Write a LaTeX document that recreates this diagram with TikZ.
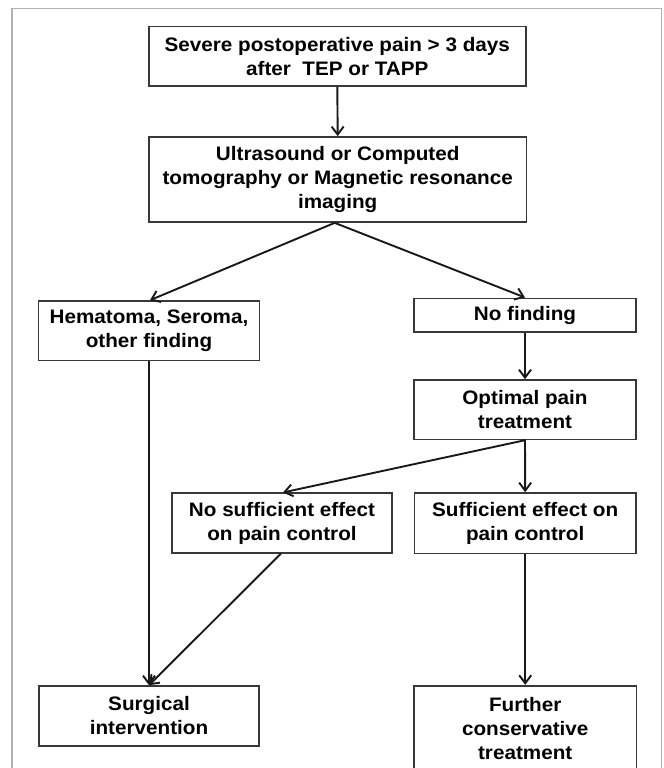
\documentclass[tikz,border=0pt]{standalone}
\usepackage{fontspec}
\setmainfont[FakeStretch=1.06]{Liberation Sans}
\usetikzlibrary{arrows.meta,calc}
\tikzset{
  box/.style={draw=black!78, line width=1.7bp, fill=white, inner sep=0pt, align=center,
    font=\fontsize{19.5bp}{24bp}\selectfont\bfseries, text=black},
  conn/.style={draw=black!90, line width=1.9bp, -{Straight Barb[length=8bp,width=12bp]}},
}
\begin{document}
\begin{tikzpicture}[x=1bp,y=-1bp]
\useasboundingbox (0,0) rectangle (664,768);
\clip (0,0) rectangle (664,768);
\fill[white] (0,0) rectangle (664,768);
\draw[gray!60, line width=1.5bp] (12,8.5) rectangle (661.5,800);

\node[box, minimum width=377bp, minimum height=59.5bp] (b1) at (337.3,56.3)
  {Severe postoperative pain > 3 days\\after\ \ TEP or TAPP};
\node[box, minimum width=377.5bp, minimum height=85bp] (b2) at (337.7,179.5)
  {Ultrasound or Computed\\tomography or Magnetic resonance\\imaging};
\node[box, minimum width=221bp, minimum height=59.3bp] (hem) at (149,330.7)
  {Hematoma, Seroma,\\other finding};
\node[box, minimum width=222bp, minimum height=33.7bp] (nof) at (525,315.2)
  {No finding};
\node[box, minimum width=222bp, minimum height=59.3bp] (opt) at (525,409.7)
  {Optimal pain\\treatment};
\node[box, minimum width=220.6bp, minimum height=59.4bp] (nse) at (282,523)
  {No sufficient effect\\on pain control};
\node[box, minimum width=221.7bp, minimum height=60.5bp] (se) at (525.2,523.3)
  {Sufficient effect on\\pain control};
\node[box, minimum width=220.6bp, minimum height=59.7bp] (sur) at (149,715.9)
  {Surgical\\intervention};
\node[box, minimum width=222.3bp, minimum height=85bp] (fur) at (525.2,728.2)
  {Further\\conservative\\treatment};

\coordinate (b2s) at ($(b2.south)+(-3,0)$);
\draw[conn] (b1.south) -- (b2.north);
\draw[conn] (b2s) -- ($(hem.north)+(1,0)$);
\draw[conn] (b2s) -- (nof.north);
\draw[conn] (nof.south) -- (opt.north);
\draw[conn] (opt.south) -- ($(nse.north)+(1,0)$);
\draw[conn] (opt.south) -- (se.north);
\draw[conn] (hem.south) -- (sur.north);
\draw[conn] ($(nse.south)+(-1,0)$) -- (sur.north);
\draw[conn] (se.south) -- (fur.north);
\end{tikzpicture}
\end{document}
